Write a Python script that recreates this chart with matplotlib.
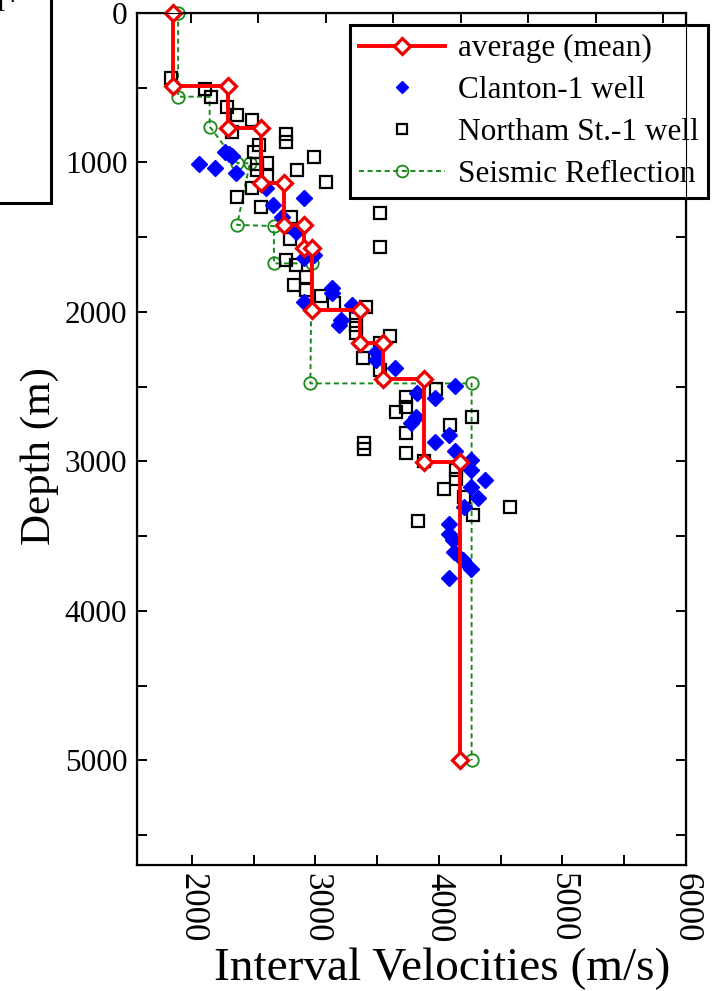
import matplotlib
matplotlib.use("Agg")
import matplotlib.pyplot as plt
from matplotlib.lines import Line2D
from matplotlib.patches import Rectangle
from matplotlib.ticker import MultipleLocator

plt.rcParams['font.family'] = ['Liberation Serif', 'DejaVu Serif']

# average (mean) interval velocity, step profile
mean_vel = [1845, 1845, 2295, 2295, 2560, 2560, 2745, 2745, 2905, 2905,
            2975, 2975, 3360, 3360, 3545, 3545, 3880, 3880, 4170, 4170]
mean_depth = [0, 490, 490, 770, 770, 1135, 1135, 1420, 1420, 1575,
              1575, 1985, 1985, 2205, 2205, 2450, 2450, 3005, 3005, 5000]

# Clanton-1 well
clanton_vel = [2056, 2186, 2272, 2300, 2327, 2362, 2597, 2659, 2908, 2732,
               2846, 2908, 2989, 2908, 3138, 3138, 3300, 3205, 3191, 3489,
               3489, 3643, 3827, 3968, 4130, 3813, 3773, 4083, 3965, 4130,
               4262, 4259, 4373, 4259, 4314, 4200, 4083, 4083, 4111, 4124,
               4192, 4259, 4083]
clanton_depth = [1009, 1038, 927, 945, 960, 1072, 1172, 1284, 1239, 1362,
                 1463, 1641, 1619, 1932, 1842, 1875, 1954, 2054, 2088, 2267,
                 2322, 2378, 2545, 2579, 2496, 2706, 2740, 2824, 2872, 2933,
                 2990, 3059, 3126, 3170, 3244, 3305, 3416, 3483, 3528, 3606,
                 3662, 3723, 3780]

# Northam St.-1 well
northam_vel = [1835, 2110, 2159, 2289, 2370, 2491, 2329, 2759, 2759, 2548,
               2500, 2613, 2532, 2986, 2848, 2530, 2613, 3084, 2491, 2370,
               2564, 3521, 2800, 2792, 3521, 2759, 2840, 2921, 2824, 2921,
               3043, 3148, 3408, 3327, 3327, 3327, 3602, 3521, 3383, 3521,
               3975, 3732, 3732, 3651, 4267, 4089, 3732, 3391, 3391, 3732,
               3878, 4137, 4137, 4040, 4202, 4275, 4575, 3829]
northam_depth = [433, 507, 561, 628, 681, 715, 795, 808, 862, 882,
                 929, 1003, 1009, 962, 1050, 1050, 1090, 1130, 1170, 1230,
                 1297, 1338, 1364, 1512, 1565, 1652, 1686, 1766, 1820, 1853,
                 1894, 1941, 1967, 2030, 2090, 2140, 2161, 2208, 2309, 2389,
                 2516, 2570, 2637, 2670, 2704, 2757, 2811, 2878, 2918, 2945,
                 2999, 3059, 3119, 3187, 3240, 3360, 3307, 3400]

# Seismic reflection
seis_vel = [1890, 1890, 2145, 2145, 2370, 2470, 2367, 2665, 2665, 2970,
            2960, 4265, 4265]
seis_depth = [0, 560, 560, 760, 1005, 1005, 1418, 1425, 1675, 1675,
              2478, 2478, 5000]
seis_marked = [0, 1, 3, 4, 5, 6, 7, 8, 9, 10, 11, 12]

labels = ['average (mean)', 'Clanton-1 well', 'Northam St.-1 well',
          'Seismic Reflection']

fig = plt.figure(figsize=(7.25, 9.91), dpi=100)
ax = fig.add_axes([137 / 725, 1 - 865 / 991, 549 / 725, 852 / 991])

dash = (0, (2.6, 1.8))
ax.plot(seis_vel, seis_depth, color='#1a8a1a', lw=1.4, ls=dash,
        marker='o', ms=9, mfc='none', mec='#1a8a1a', mew=1.3,
        markevery=seis_marked, clip_on=False, zorder=2)
ax.plot(northam_vel, northam_depth, ls='none', marker='s', ms=8.8,
        mfc='none', mec='black', mew=1.6, zorder=3)
ax.plot(clanton_vel, clanton_depth, ls='none', marker='D', ms=7.8,
        color='#0000ff', mec='#0000ff', zorder=4)
ax.plot(mean_vel, mean_depth, color='#ff0000', lw=2.8, marker='D', ms=8,
        mfc='white', mec='#ee0000', mew=2.3, clip_on=False, zorder=5)

ax.set_xlim(1557, 6000)
ax.set_ylim(5700, 0)
ax.xaxis.set_major_locator(MultipleLocator(1000))
ax.xaxis.set_minor_locator(MultipleLocator(500))
ax.yaxis.set_major_locator(MultipleLocator(1000))
ax.yaxis.set_minor_locator(MultipleLocator(500))
ax.set_xticks(range(2000, 6001, 1000))

ax.tick_params(which='both', direction='in', length=7.2, width=1.4,
               top=False, right=True, pad=7)
ax.tick_params(axis='y', labelsize=22.5)
ax.tick_params(axis='x', labelsize=25, pad=6)
for lab in ax.get_xticklabels():
    lab.set_rotation(-90)
for s in ax.spines.values():
    s.set_linewidth(1.6)

# top frame ticks come from a separately scaled axis
top = ax.twiny()
top.set_xlim(1600, 5670)
top.xaxis.set_major_locator(MultipleLocator(500))
top.tick_params(direction='in', length=7.2, width=1.4, labeltop=False)

ax.set_xlabel('Interval Velocities (m/s)', fontsize=34, va='baseline')
ax.xaxis.set_label_coords((442 - 137) / 549, (865 - 980) / 852)
ax.set_ylabel('Depth (m)', fontsize=31, va='center')
ax.yaxis.set_label_coords((40 - 137) / 549, (865 - 456) / 852)

handles = [
    Line2D([], [], color='#ff0000', lw=2.8, marker='D', ms=8, mfc='white',
           mec='#ee0000', mew=2.3),
    Line2D([], [], ls='none', marker='D', ms=6.5, color='#0000ff'),
    Line2D([], [], ls='none', marker='s', ms=7.5, mfc='none', mec='black',
           mew=1.6),
    Line2D([], [], color='#1a8a1a', lw=1.4, ls=dash, marker='o', ms=8.5,
           mfc='none', mec='#1a8a1a', mew=1.3),
]
leg = ax.legend(handles, labels, loc='upper right',
                bbox_to_anchor=(708 / 725, 1 - 25 / 991),
                bbox_transform=fig.transFigure, fontsize=22.5,
                frameon=True, fancybox=False, framealpha=1,
                edgecolor='black', borderaxespad=0, borderpad=0.3,
                labelspacing=0.41, handlelength=2.75, handletextpad=0.4)
leg.get_frame().set_linewidth(2.2)
leg.set_zorder(10)

# edge of a neighbouring panel's box, cut off by the figure border
fig.patches.append(Rectangle((-0.1, 1 - 203 / 991), 0.1 + 51 / 725,
                             0.2 + 203 / 991, transform=fig.transFigure,
                             fill=False, lw=2.2, ec='black'))
fig.text(21 / 725, 1 - 11 / 991, 'al*', ha='right', va='baseline',
         fontsize=22)

fig.savefig('out.png', dpi=100)
